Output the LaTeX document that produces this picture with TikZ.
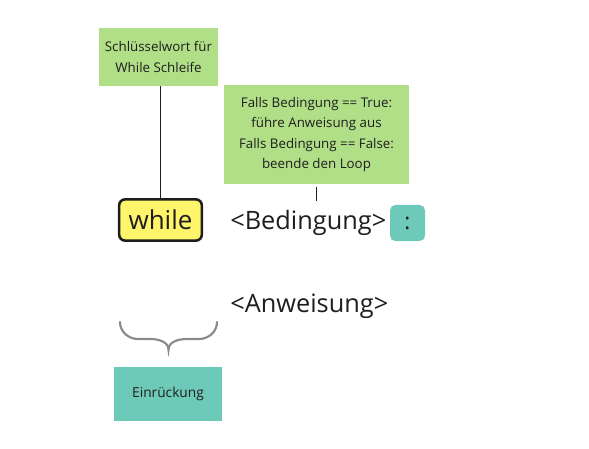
\documentclass[tikz,border=0pt]{standalone}
\usepackage{fontspec}
\setmainfont{Open Sans}
\usetikzlibrary{positioning}
\definecolor{notec}{HTML}{B1DF87}
\definecolor{kwfill}{HTML}{FFF56B}
\definecolor{tealc}{HTML}{6DCAB8}
\definecolor{bracec}{HTML}{8A8A8A}
\definecolor{ink}{HTML}{1E1E1E}

\begin{document}
\begin{tikzpicture}[
  x=0.75pt, y=0.75pt,
  note/.style={fill=notec, align=center, inner sep=3pt, text=ink, font=\fontsize{10}{15.3}\selectfont},
  kw/.style={draw=ink, fill=kwfill, line width=1.9pt, rounded corners=4.5pt, minimum width=62pt, minimum height=31pt, font=\fontsize{19.5}{22}\selectfont, text=ink},
  code/.style={anchor=west, inner sep=0pt, font=\fontsize{19}{22}\selectfont, text=ink},
  colon/.style={fill=tealc, rounded corners=4pt, minimum width=26.25pt, minimum height=27pt, font=\fontsize{17}{20}\selectfont, text=ink},
  indent/.style={fill=tealc, minimum width=81pt, minimum height=40.5pt, text=ink, font=\fontsize{10.3}{14}\selectfont},
  link/.style={line width=1pt, ink},
]
\useasboundingbox (0,0) rectangle (589,-449);

% ---------------- notes
\node[note, minimum width=89.25pt, minimum height=43.5pt] (kwnote) at (158.5,-57) {Schlüsselwort für\\While Schleife};
\node[note, minimum width=138.75pt, minimum height=74.25pt] (condnote) at (316.5,-134.5) {Falls Bedingung == True:\\führe Anweisung aus\\Falls Bedingung == False:\\beende den Loop};

% ---------------- code line
\node[kw] (while) at (160.5,-220) {while};
\node[code] (cond) at (230,-223) {<Bedingung>};
\node[colon] (col) at (407.5,-223) {:};
\node[code] (body) at (230,-306) {<Anweisung>};
\coordinate (condtop) at (316.5,-201);

% ---------------- indentation
\node[indent] (einr) at (168,-394) {Einrückung};
\draw[bracec, line width=1.6pt, line cap=round]
  (120,-322) to[out=-90,in=180] (138,-339) -- (150,-339) to[out=0,in=90] (168.5,-350)
  to[out=90,in=180] (187,-339) -- (199,-339) to[out=0,in=-90] (217,-322);

% ---------------- links
\draw[link] (while.north) -- (while.north |- kwnote.south);
\draw[link, shorten <=2.25pt] (condnote.south) -- (condtop);

\end{tikzpicture}
\end{document}
